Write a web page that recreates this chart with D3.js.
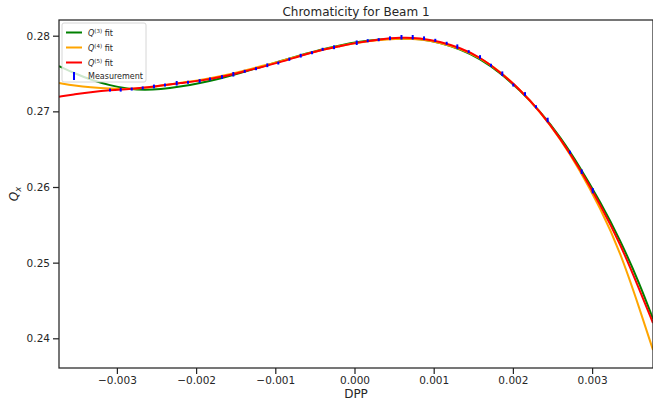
<!DOCTYPE html>
<html>
<head>
<meta charset="utf-8">
<style>
  body { margin: 0; background: #fff; }
  svg { font-family: 'DejaVu Sans', sans-serif; }
</style>
</head>
<body>
<svg width="653" height="401"></svg>
<script src="https://d3js.org/d3.v7.min.js"></script>
<script>
// fit curves
const dppGrid = [-0.003731, -0.003529, -0.003340, -0.003087, -0.002835, -0.002645, -0.002456, -0.002203,
  -0.001951, -0.001698, -0.001446, -0.001193, -0.000941, -0.000688, -0.000436, -0.000183,
  0.000069, 0.000322, 0.000574, 0.000827, 0.001080, 0.001332, 0.001585, 0.001837,
  0.002090, 0.002342, 0.002595, 0.002847, 0.003100, 0.003352, 0.003605, 0.003769];
const q3Fit = [0.27599, 0.27500, 0.27421, 0.27342, 0.27291, 0.27282, 0.27291, 0.27325,
  0.27372, 0.27432, 0.27504, 0.27584, 0.27663, 0.27741, 0.27814, 0.27874,
  0.27922, 0.27952, 0.27967, 0.27959, 0.27909, 0.27822, 0.27697, 0.27512,
  0.27277, 0.27002, 0.26668, 0.26264, 0.25808, 0.25306, 0.24711, 0.24255];
const q4Fit = [0.27375, 0.27340, 0.27317, 0.27298, 0.27295, 0.27310, 0.27336, 0.27377,
  0.27412, 0.27461, 0.27524, 0.27593, 0.27659, 0.27737, 0.27807, 0.27865,
  0.27913, 0.27944, 0.27963, 0.27956, 0.27911, 0.27828, 0.27711, 0.27528,
  0.27288, 0.26998, 0.26645, 0.26221, 0.25729, 0.25154, 0.24374, 0.23845];
const q5Fit = [0.27194, 0.27227, 0.27253, 0.27282, 0.27294, 0.27313, 0.27339, 0.27375,
  0.27403, 0.27450, 0.27514, 0.27580, 0.27647, 0.27733, 0.27809, 0.27861,
  0.27915, 0.27950, 0.27978, 0.27971, 0.27923, 0.27840, 0.27718, 0.27520,
  0.27289, 0.27001, 0.26650, 0.26239, 0.25775, 0.25260, 0.24625, 0.24202];

// measurements
const measDpp = [-0.003087, -0.002952, -0.002813, -0.002674, -0.002532, -0.002393, -0.002245, -0.002102,
  -0.001955, -0.001825, -0.001673, -0.001530, -0.001386, -0.001244, -0.001101, -0.000962,
  -0.000823, -0.000679, -0.000537, -0.000402, -0.000259, 0.000028, 0.000167, 0.000306,
  0.000448, 0.000593, 0.000735, 0.000878, 0.001020, 0.001164, 0.001298, 0.001442,
  0.001585, 0.001723, 0.001866, 0.002005, 0.002153, 0.002292, 0.002439, 0.002721,
  0.002869, 0.003008];
const measQ = [0.27282, 0.27286, 0.27295, 0.27309, 0.27329, 0.27348, 0.27371, 0.27384,
  0.27401, 0.27428, 0.27454, 0.27490, 0.27529, 0.27564, 0.27609, 0.27639,
  0.27688, 0.27736, 0.27775, 0.27820, 0.27847, 0.27907, 0.27934, 0.27947,
  0.27966, 0.27979, 0.27979, 0.27966, 0.27939, 0.27900, 0.27855, 0.27789,
  0.27718, 0.27609, 0.27498, 0.27348, 0.27229, 0.27061, 0.26886, 0.26459,
  0.26202, 0.25951];
const measErr = [0.0002, 0.00025, 0.0002, 0.0002, 0.00025, 0.0002, 0.0003, 0.0002,
  0.00025, 0.0002, 0.00025, 0.0003, 0.0002, 0.0002, 0.00025, 0.0002,
  0.0002, 0.00025, 0.0002, 0.0002, 0.00025, 0.0003, 0.0002, 0.0002,
  0.00025, 0.0003, 0.0003, 0.00025, 0.0002, 0.0002, 0.0003, 0.0002,
  0.00025, 0.0002, 0.0003, 0.0002, 0.00025, 0.0002, 0.0003, 0.0002,
  0.0003, 0.00035];

const xTicks = [-0.003, -0.002, -0.001, 0.000, 0.001, 0.002, 0.003];
const yTicks = [0.24, 0.25, 0.26, 0.27, 0.28];

const fits = [
  { name: "3", values: q3Fit, color: "green" },
  { name: "4", values: q4Fit, color: "orange" },
  { name: "5", values: q5Fit, color: "red" }
];

let margin = { left: 59, top: 20, right: 653, bottom: 368 };
let svg = d3.select("svg");

let x = d3.scaleLinear().domain([-0.003731, 0.003769]).range([margin.left, margin.right]);
let y = d3.scaleLinear().domain([0.236074, 0.282075]).range([margin.bottom, margin.top]);

svg.append("defs").append("clipPath").attr("id", "plotclip")
  .append("rect")
  .attr("x", margin.left).attr("y", margin.top)
  .attr("width", margin.right - margin.left).attr("height", margin.bottom - margin.top);

let minus = s => s.replace("-", "\u2212");

// axes
let xAxis = svg.append("g")
  .attr("transform", `translate(0,${margin.bottom})`)
  .call(d3.axisBottom(x).tickValues(xTicks).tickSize(6).tickPadding(3)
    .tickFormat(d => minus(d3.format(".3f")(d))));
let yAxis = svg.append("g")
  .attr("transform", `translate(${margin.left},0)`)
  .call(d3.axisLeft(y).tickValues(yTicks).tickSize(6).tickPadding(3)
    .tickFormat(d3.format(".2f")));

[xAxis, yAxis].forEach(g => {
  g.select(".domain").remove();
  g.selectAll("line").attr("stroke", "#262626").attr("stroke-width", 1.25);
  g.selectAll("text").attr("fill", "#262626").style("font-size", "10.5px")
    .style("font-family", "'DejaVu Sans', sans-serif");
});

// fit curves (b-spline through the read-off samples smooths reading noise)
let line = d3.line()
  .x((d, i) => x(dppGrid[i]))
  .y(d => y(d))
  .curve(d3.curveBasis);

let curves = svg.append("g").attr("clip-path", "url(#plotclip)");
fits.forEach(f => {
  curves.append("path")
    .attr("d", line(f.values))
    .attr("fill", "none")
    .attr("stroke", f.color)
    .attr("stroke-width", 2);
});

// error bars
curves.append("g")
  .selectAll("line")
  .data(measDpp)
  .join("line")
  .attr("x1", d => x(d))
  .attr("x2", d => x(d))
  .attr("y1", (d, i) => y(measQ[i] - measErr[i]))
  .attr("y2", (d, i) => y(measQ[i] + measErr[i]))
  .attr("stroke", "blue")
  .attr("stroke-width", 2);

// frame
svg.append("rect")
  .attr("x", margin.left).attr("y", margin.top)
  .attr("width", margin.right - margin.left).attr("height", margin.bottom - margin.top)
  .attr("fill", "none").attr("stroke", "#262626").attr("stroke-width", 1.25);

// legend
let legend = svg.append("g").attr("transform", "translate(62,23)");
legend.append("rect")
  .attr("width", 84).attr("height", 59).attr("rx", 2)
  .attr("fill", "white").attr("fill-opacity", 0.8)
  .attr("stroke", "#cccccc").attr("stroke-width", 0.8);

fits.forEach((f, i) => {
  let row = legend.append("g").attr("transform", `translate(0,${9.5 + i * 15})`);
  row.append("line")
    .attr("x1", 4).attr("x2", 20)
    .attr("stroke", f.color).attr("stroke-width", 2);
  let t = row.append("text").attr("x", 26).attr("y", 3)
    .style("font-size", "8px").attr("fill", "#262626");
  t.append("tspan").style("font-style", "italic").text("Q");
  t.append("tspan").attr("dy", -3).style("font-size", "5.5px").text(`(${f.name})`);
  t.append("tspan").attr("dy", 3).text(" fit");
});
let mrow = legend.append("g").attr("transform", "translate(0,53)");
mrow.append("line")
  .attr("x1", 12).attr("x2", 12).attr("y1", -4).attr("y2", 4)
  .attr("stroke", "blue").attr("stroke-width", 2);
mrow.append("text").attr("x", 26).attr("y", 3)
  .style("font-size", "8px").attr("fill", "#262626").text("Measurement");

// titles
svg.append("text")
  .attr("x", (margin.left + margin.right) / 2).attr("y", 16)
  .attr("text-anchor", "middle")
  .style("font-size", "12px").attr("fill", "#262626")
  .text("Chromaticity for Beam 1");

svg.append("text")
  .attr("x", (margin.left + margin.right) / 2).attr("y", 398)
  .attr("text-anchor", "middle")
  .style("font-size", "12px").attr("fill", "#262626")
  .text("DPP");

let yl = svg.append("text")
  .attr("transform", `translate(18,${(margin.top + margin.bottom) / 2}) rotate(-90)`)
  .attr("text-anchor", "middle")
  .style("font-size", "12px").attr("fill", "#262626");
yl.append("tspan").style("font-style", "italic").text("Q");
yl.append("tspan").attr("dy", 3).style("font-size", "8.5px").style("font-style", "italic").text("x");
</script>
</body>
</html>
